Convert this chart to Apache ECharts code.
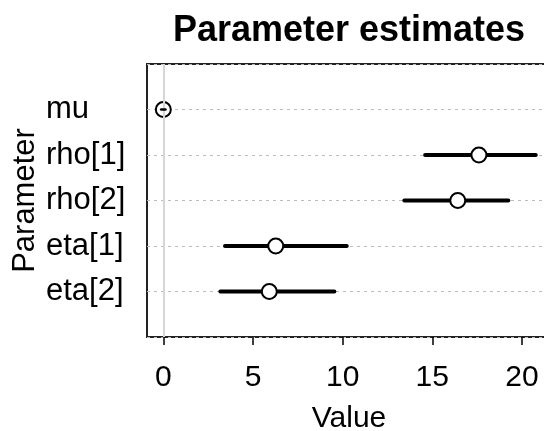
<!DOCTYPE html>
<html>
<head>
<meta charset="utf-8">
<script src="https://cdn.jsdelivr.net/npm/echarts@6/dist/echarts.min.js"></script>
<style>html,body{margin:0;padding:0;background:#fff;}#c{width:544px;height:431px;}</style>
</head>
<body>
<div id="c"></div>
<script>
var params = ['mu', 'rho[1]', 'rho[2]', 'eta[1]', 'eta[2]'];
var estimates = [0.0, 17.6, 16.42, 6.27, 5.91];
var lower = [-0.12, 14.6, 13.44, 3.44, 3.18];
var upper = [0.12, 20.77, 19.24, 10.23, 9.54];
var xTicks = [0, 5, 10, 15, 20];

var FONT = 'Liberation Sans';
var chart = echarts.init(document.getElementById('c'), null, {renderer: 'canvas'});

var rows = params.map(function (p, i) { return [lower[i], upper[i], i + 1, estimates[i]]; });
var points = params.map(function (p, i) { return [estimates[i], i + 1]; });

function intervalRenderer(onlyShort) {
  return function (params, api) {
    var a = api.coord([api.value(0), api.value(2)]);
    var b = api.coord([api.value(1), api.value(2)]);
    var len = Math.abs(b[0] - a[0]);
    if (onlyShort && len >= 14) return null;
    return {
      type: 'line',
      shape: {x1: a[0], y1: a[1], x2: b[0], y2: b[1]},
      style: {stroke: '#000', lineWidth: onlyShort ? 2.5 : 4, lineCap: 'round'}
    };
  };
}

chart.setOption({
  animation: false,
  title: {
    text: 'Parameter estimates',
    left: 344,
    top: 8,
    textAlign: 'center',
    textStyle: {fontFamily: FONT, fontSize: 36, fontWeight: 'bold', color: '#000'}
  },
  grid: {
    left: 147, top: 64, width: 404, height: 273,
    containLabel: false,
    outerBoundsMode: 'none',
    show: true, borderColor: '#222', borderWidth: 2, backgroundColor: 'transparent'
  },
  xAxis: {
    type: 'value',
    min: -0.91, max: 21.62,
    name: 'Value',
    nameLocation: 'middle',
    nameGap: 67,
    nameMoveOverlap: false,
    nameTextStyle: {fontFamily: FONT, fontSize: 30, color: '#000'},
    axisLine: {show: false, onZero: false},
    axisTick: {show: true, length: 8, customValues: xTicks, lineStyle: {color: '#000', width: 1.5}},
    axisLabel: {customValues: xTicks, margin: 26, fontFamily: FONT, fontSize: 30, color: '#000'},
    splitLine: {show: false}
  },
  yAxis: {
    type: 'value',
    inverse: true,
    min: 0, max: 6, interval: 1,
    name: 'Parameter',
    nameLocation: 'middle',
    nameRotate: 90,
    nameGap: 106,
    nameMoveOverlap: false,
    nameTextStyle: {fontFamily: FONT, fontSize: 31, color: '#000'},
    axisLine: {show: false, onZero: false},
    axisTick: {show: false},
    axisLabel: {
      margin: 101, align: 'left', fontFamily: FONT, fontSize: 31, color: '#000',
      formatter: function (v) { var i = Math.round(v) - 1; return (i >= 0 && i < params.length) ? params[i] : ''; }
    },
    splitLine: {show: true, lineStyle: {color: '#bdbdbd', width: 1.2, type: [3, 4]}}
  },
  series: [
    {
      type: 'custom',
      data: rows,
      renderItem: intervalRenderer(false),
      z: 3,
      silent: true,
      markLine: {
        silent: true, symbol: 'none', label: {show: false},
        lineStyle: {color: '#d6d6d6', width: 2, type: 'solid'},
        data: [{xAxis: 0}]
      }
    },
    {
      type: 'scatter',
      data: points,
      symbol: 'circle',
      symbolSize: 15,
      itemStyle: {color: '#fff', borderColor: '#000', borderWidth: 2, opacity: 1},
      z: 4
    },
    {
      type: 'custom',
      data: rows,
      renderItem: intervalRenderer(true),
      z: 5,
      silent: true
    }
  ]
});
</script>
</body>
</html>
